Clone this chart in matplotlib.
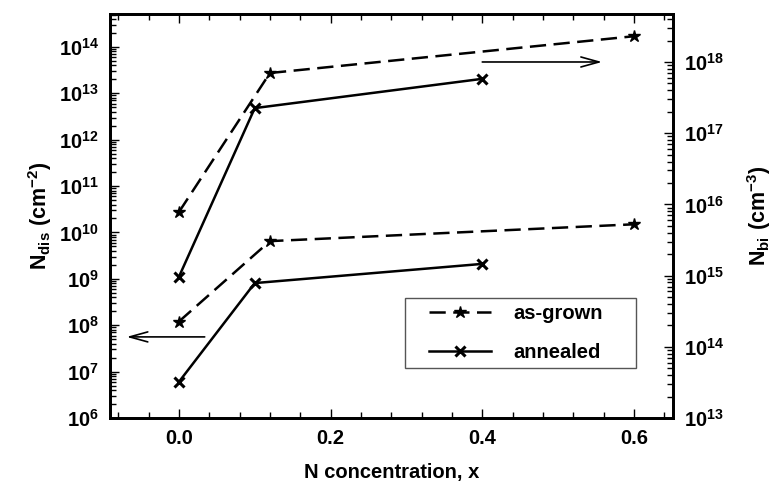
import matplotlib
matplotlib.use("Agg")
import matplotlib.pyplot as plt
from matplotlib.patches import Rectangle
from matplotlib.ticker import FuncFormatter, LogLocator, MultipleLocator, FormatStrFormatter
import numpy as np

# =========================
# DATA
# =========================
x_grown = [0.0, 0.12, 0.6]
x_annealed = [0.0, 0.1, 0.4]

# dislocation density (left axis, cm^-2)
ndis_grown = [1.2e8, 6.5e9, 1.5e10]
ndis_annealed = [6.0e6, 8.1e8, 2.1e9]

# background carrier density (right axis, cm^-3)
nbi_grown = [7.8e15, 7.0e17, 2.3e18]
nbi_annealed = [9.6e14, 2.25e17, 5.8e17]

labels = ["as-grown", "annealed"]

# =========================
# STYLE
# =========================
plt.rcParams["font.family"] = ["Liberation Sans", "DejaVu Sans"]
plt.rcParams["font.weight"] = "bold"
plt.rcParams["mathtext.fontset"] = "custom"
plt.rcParams["mathtext.rm"] = "Liberation Sans:bold"
plt.rcParams["mathtext.bf"] = "Liberation Sans:bold"
plt.rcParams["mathtext.it"] = "Liberation Sans:bold"

FS = 14.5
dash = (0, (6.5, 3.0))
star = dict(marker="*", ms=9, mew=1)
cross = dict(marker="x", ms=6.5, mew=2.2)

fig = plt.figure(figsize=(7.74, 4.91), dpi=100)
ax = fig.add_axes([0.142, 0.1487, 0.727, 0.8228])
ax2 = ax.twinx()

# =========================
# CURVES
# =========================
l1, = ax.plot(x_grown, ndis_grown, color="black", lw=1.8, ls=dash, **star)
l2, = ax.plot(x_annealed, ndis_annealed, color="black", lw=1.8, ls="-", **cross)
ax2.plot(x_grown, nbi_grown, color="black", lw=1.8, ls=dash, **star)
ax2.plot(x_annealed, nbi_annealed, color="black", lw=1.8, ls="-", **cross)

# arrows telling which axis each pair belongs to
arrow = dict(arrowstyle="->, head_length=0.65, head_width=0.18", lw=1.2,
             color="black", mutation_scale=20, shrinkA=0, shrinkB=0)
ax.annotate("", xy=(-0.069, 5.6e7), xytext=(0.034, 5.6e7), arrowprops=arrow)
ax2.annotate("", xy=(0.558, 1e18), xytext=(0.40, 1e18), arrowprops=arrow)

# =========================
# AXES
# =========================
ax.set_xlim(-0.091, 0.651)
ax.set_yscale("log")
ax.set_ylim(1e6, 10 ** 14.71)
ax2.set_yscale("log")
ax2.set_ylim(1e13, 10 ** 18.674)

pow_fmt = FuncFormatter(lambda v, p: r"$\mathbf{10^{%d}}$" % round(np.log10(v)))

ax.xaxis.set_major_locator(MultipleLocator(0.2))
ax.xaxis.set_minor_locator(MultipleLocator(0.04))
ax.xaxis.set_major_formatter(FormatStrFormatter("%.1f"))

for a in (ax, ax2):
    a.yaxis.set_major_locator(LogLocator(base=10, numticks=20))
    a.yaxis.set_minor_locator(LogLocator(base=10, subs=np.arange(2, 10), numticks=20))
    a.yaxis.set_major_formatter(pow_fmt)
    for s in a.spines.values():
        s.set_linewidth(2.0)

ax.tick_params(which="both", direction="in", top=True, right=False,
               labelsize=FS, width=1.0, pad=8)
ax.tick_params(which="major", length=6.5)
ax.tick_params(which="minor", length=4)
ax2.tick_params(which="both", direction="in", labelsize=FS, width=1.0, pad=8)
ax2.tick_params(which="major", length=6.5)
ax2.tick_params(which="minor", length=4)

ax.set_xlabel("N concentration, x", fontsize=FS, fontweight="bold", labelpad=11)
ax.set_ylabel(r"$\mathbf{N_{dis}\ (cm^{-2})}$", fontsize=FS + 1, labelpad=3)
ax2.set_ylabel(r"$\mathbf{N_{bi}\ (cm^{-3})}$", fontsize=FS + 1, labelpad=15)

# =========================
# LEGEND (frame drawn separately)
# =========================
ax2.add_patch(Rectangle((0.524, 0.124), 0.411, 0.173, transform=ax2.transAxes,
                        fill=True, facecolor="white", edgecolor="#555555",
                        lw=1.0, zorder=4))
leg = ax2.legend([l1, l2], labels, loc="center left",
                 bbox_to_anchor=(0.567, 0.21), frameon=False,
                 fontsize=FS, numpoints=1, handlelength=3.1,
                 handletextpad=1.1, labelspacing=1.0,
                 borderpad=0, borderaxespad=0)
leg.set_zorder(5)

fig.savefig("out.png", dpi=100)
